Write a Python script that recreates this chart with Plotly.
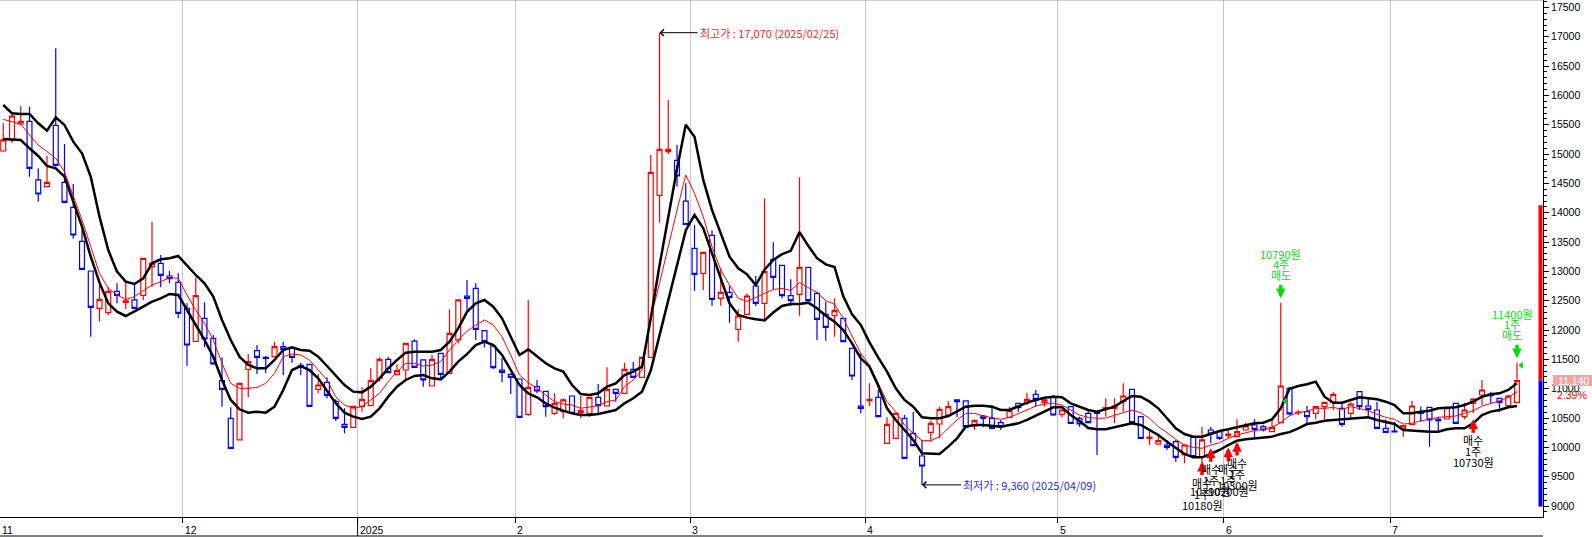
import plotly.graph_objects as go

# ---------------- data ----------------
month_labels = ["11", "12", "2025", "2", "3", "4", "5", "6", "7"]
month_start_idx = [0, 21, 41, 59, 79, 99, 121, 140, 159]
year_start_idx = 41

open_ = [15053, 15241, 15513, 15559, 14559, 14445, 15491, 14519, 14093, 13513,
         13007, 12371, 12297, 12660, 12473, 12513, 12592, 13081, 13138, 12922,
         12814, 12371, 11808, 12200, 11859, 11137, 10495, 10126, 11331, 11649,
         11535, 11546, 11717, 11688, 11399, 11416, 10989, 11109, 10785, 10393,
         10342, 10700, 10711, 11177, 11501, 11240, 11319, 11813, 11490, 11046,
         11603, 11262, 11831, 12581, 12711, 11990, 11728, 11319, 11245, 11166,
         10563, 11035, 10955, 10580, 10609, 10876, 10592, 10580, 10853, 10705,
         10989, 10921, 11330, 11194, 11535, 14297, 15042, 14894, 14200, 13394,
         12967, 13615, 12541, 12643, 12013, 12268, 12751, 12456, 13206, 13104,
         12587, 12609, 13070, 12626, 12268, 12246, 12200, 11689, 10705, 10796,
         10853, 10069, 10154, 10495, 10239, 9853, 10256, 10398, 10552, 10808,
         10791, 10364, 10535, 10495, 10421, 10512, 10751, 10762, 10904, 10768,
         10864, 10563, 10694, 10495, 10580, 10597, 10654, 10666, 10779, 10989,
         10524, 10154, 10057, 10040, 10097, 9870, 10171, 9841, 10296, 10268,
         10200, 10183, 10296, 10381, 10353, 10268, 10421, 11007, 10592, 10609,
         10580, 10694, 10768, 10666, 10580, 10950, 10705, 10637, 10325, 10279,
         10325, 10393, 10609, 10683, 10478, 10484, 10751, 10523, 10751, 10893,
         10904, 10836, 10711, 10768]
high = [15525, 15690, 15820, 15809, 14758, 14968, 16803, 15172, 14490, 13706,
        13007, 12780, 12729, 12797, 12825, 12780, 13234, 13842, 13280, 13007,
        12967, 12456, 12899, 12473, 11916, 11535, 10683, 11092, 11592, 11745,
        11558, 11802, 11802, 11700, 11444, 11420, 11251, 11194, 10819, 10666,
        10700, 11024, 11347, 11535, 11546, 11421, 11774, 11842, 11495, 11575,
        11605, 12353, 12513, 12853, 12797, 12000, 11730, 11518, 11262, 11170,
        12513, 11149, 10960, 10921, 10836, 10885, 10876, 10860, 11080, 11365,
        10995, 11444, 11455, 11540, 14985, 17070, 15923, 15155, 14502, 13792,
        13340, 13700, 13060, 12751, 12354, 12626, 12922, 14246, 13496, 13110,
        12865, 14604, 13075, 12655, 12484, 12541, 12205, 11700, 11603, 11092,
        10978, 10512, 10590, 10552, 10609, 10126, 10455, 10694, 10791, 10815,
        10800, 10478, 10552, 10722, 10467, 10694, 10760, 10933, 10978, 10830,
        10893, 10645, 10700, 10524, 10637, 10609, 10836, 10836, 11092, 10995,
        10530, 10296, 10211, 10126, 10126, 10045, 10175, 10353, 10353, 10275,
        10308, 10478, 10421, 10478, 10380, 10467, 12467, 11030, 10637, 10705,
        10694, 10768, 10938, 10751, 10768, 10955, 10853, 10779, 10478, 10438,
        10380, 10796, 10694, 10690, 10523, 10694, 10755, 10762, 10836, 11149,
        10950, 10840, 10893, 11444]
low = [15040, 15190, 15502, 14615, 14189, 14440, 14786, 14161, 13558, 13024,
       11888, 12143, 12257, 12456, 12354, 12365, 12513, 12740, 12729, 12797,
       12200, 11393, 11800, 11706, 11410, 10694, 9967, 10115, 10853, 11251,
       11262, 11540, 11234, 11444, 11234, 10694, 10921, 10836, 10450, 10239,
       10335, 10609, 10700, 11120, 11270, 11230, 11149, 11360, 11035, 11040,
       11149, 11255, 11774, 12342, 11831, 11706, 11336, 11109, 10910, 10495,
       10535, 10921, 10523, 10552, 10495, 10570, 10495, 10523, 10580, 10695,
       10779, 10910, 11180, 11185, 11530, 13831, 15002, 14445, 13791, 12672,
       12683, 12416, 12416, 12126, 11802, 12260, 12410, 12172, 12695, 12541,
       12410, 12246, 12495, 11831, 11819, 11888, 11795, 11149, 10580, 10705,
       10512, 10060, 10145, 9805, 10020, 9360, 10097, 10154, 10540, 10512,
       10345, 10296, 10342, 10315, 10296, 10500, 10609, 10722, 10694, 10694,
       10540, 10512, 10400, 10353, 10410, 9870, 10524, 10410, 10609, 10415,
       10150, 10040, 10040, 9955, 9756, 9728, 9835, 9728, 10069, 10126,
       10150, 10175, 10290, 10154, 10270, 10260, 10415, 10552, 10552, 10421,
       10478, 10478, 10637, 10353, 10495, 10637, 10523, 10320, 10250, 10255,
       10182, 10390, 10438, 10012, 10268, 10480, 10405, 10478, 10580, 10722,
       10751, 10609, 10705, 10765]
close = [15241, 15650, 15559, 14758, 14320, 14519, 14809, 14178, 13621, 13036,
         12388, 12524, 12660, 12592, 12496, 12371, 13223, 13138, 12933, 12876,
         12285, 11745, 12587, 11848, 11422, 10990, 9984, 11092, 11461, 11535,
         11518, 11717, 11671, 11535, 11376, 10700, 11063, 10887, 10495, 10342,
         10700, 10819, 11137, 11501, 11274, 11308, 11774, 11365, 11149, 11501,
         11245, 11944, 12513, 12541, 12012, 11802, 11359, 11279, 11194, 10512,
         11024, 10961, 10694, 10751, 10808, 10580, 10626, 10853, 10711, 10989,
         10921, 11330, 11194, 11535, 14690, 15082, 15082, 14627, 13800, 12950,
         13326, 12524, 12643, 12558, 12240, 12581, 12456, 12996, 12899, 12587,
         12501, 13070, 12501, 12183, 12047, 12331, 11802, 11217, 10666, 10819,
         10524, 10393, 10580, 9813, 10029, 9682, 10410, 10648, 10694, 10779,
         10353, 10455, 10495, 10325, 10353, 10626, 10677, 10819, 10819, 10808,
         10552, 10637, 10410, 10398, 10421, 10580, 10677, 10705, 10876, 10421,
         10154, 10177, 10114, 10001, 9830, 10040, 9841, 10126, 10228, 10154,
         10228, 10268, 10364, 10308, 10296, 10342, 11046, 10570, 10603, 10523,
         10694, 10768, 10904, 10393, 10739, 10694, 10648, 10325, 10256, 10262,
         10370, 10705, 10580, 10467, 10455, 10677, 10410, 10637, 10825, 10978,
         10881, 10768, 10876, 11140]

band_upper = [15837, 15695, 15684, 15684, 15525, 15400, 15627, 15496, 15212, 15013,
              14615, 13933, 13365, 12996, 12825, 12785, 12882, 13138, 13206, 13223,
              13263, 13093, 12939, 12797, 12570, 12172, 11831, 11547, 11405, 11348,
              11348, 11490, 11660, 11706, 11660, 11649, 11546, 11387, 11234, 11063,
              10950, 10938, 11035, 11177, 11347, 11490, 11615, 11632, 11632, 11632,
              11660, 11802, 12029, 12310, 12456, 12513, 12399, 12200, 11887, 11575,
              11671, 11546, 11433, 11347, 11291, 11063, 10910, 10893, 10921, 11035,
              11092, 11234, 11291, 11376, 12200, 13100, 13950, 14750, 15500, 15297,
              14559, 14047, 13649, 13252, 13053, 12950, 12768, 13030, 13195, 13295,
              13350, 13670, 13436, 13225, 13120, 13075, 12575, 12270, 12086, 11790,
              11530, 11291, 11006, 10808, 10694, 10512, 10495, 10495, 10535, 10609,
              10694, 10711, 10711, 10694, 10637, 10637, 10705, 10762, 10808, 10847,
              10864, 10853, 10750, 10700, 10637, 10609, 10654, 10694, 10791, 10876,
              10864, 10779, 10666, 10495, 10325, 10228, 10183, 10183, 10228, 10279,
              10308, 10342, 10381, 10410, 10421, 10478, 10666, 11000, 11046, 11075,
              11120, 10864, 10762, 10762, 10808, 10853, 10836, 10819, 10779, 10722,
              10580, 10580, 10609, 10626, 10666, 10677, 10683, 10722, 10779, 10864,
              10904, 10921, 10978, 11092]
band_lower = [15258, 15252, 15241, 15099, 14968, 14798, 14758, 14615, 14206, 13763,
              13252, 12808, 12456, 12314, 12240, 12314, 12399, 12484, 12541, 12615,
              12598, 12342, 12087, 11831, 11547, 11149, 10808, 10649, 10592, 10609,
              10592, 10694, 10978, 11319, 11387, 11319, 11177, 10967, 10751, 10592,
              10523, 10484, 10523, 10666, 10865, 11035, 11149, 11217, 11234, 11177,
              11160, 11291, 11461, 11590, 11745, 11802, 11745, 11575, 11319, 11063,
              10921, 10853, 10751, 10677, 10626, 10580, 10552, 10552, 10569, 10609,
              10637, 10751, 10836, 10950, 11310, 11910, 12507, 13104, 13700, 13962,
              13735, 13308, 12882, 12456, 12257, 12212, 12186, 12165, 12300, 12410,
              12444, 12444, 12467, 12371, 12243, 12143, 12001, 11774, 11518, 11376,
              11050, 10665, 10467, 10296, 10126, 9898, 9887, 9887, 10012, 10154,
              10353, 10381, 10381, 10370, 10353, 10381, 10410, 10467, 10535, 10609,
              10683, 10683, 10550, 10450, 10330, 10308, 10308, 10342, 10381, 10410,
              10381, 10296, 10211, 10097, 9984, 9887, 9830, 9830, 9887, 9955,
              10040, 10114, 10137, 10154, 10171, 10183, 10228, 10260, 10325, 10398,
              10421, 10455, 10467, 10478, 10495, 10512, 10512, 10467, 10438, 10398,
              10296, 10285, 10285, 10268, 10268, 10308, 10325, 10325, 10410, 10552,
              10609, 10637, 10683, 10705]
band_mid = [15593, 15553, 15513, 15326, 15155, 15042, 14928, 14701, 14303, 13877,
            13422, 12967, 12712, 12598, 12524, 12570, 12672, 12768, 12825, 12893,
            12882, 12598, 12342, 12115, 11831, 11433, 11092, 11007, 11007, 11020,
            11092, 11262, 11546, 11592, 11575, 11490, 11319, 11149, 10864, 10722,
            10666, 10694, 10808, 10921, 11120, 11291, 11433, 11433, 11387, 11404,
            11461, 11660, 11831, 11980, 12086, 12172, 12086, 11887, 11575, 11234,
            11103, 11007, 10893, 10779, 10739, 10722, 10666, 10694, 10711, 10779,
            10808, 11035, 11149, 11319, 12200, 12797, 13434, 14042, 14644, 14332,
            13934, 13422, 13024, 12768, 12540, 12490, 12555, 12620, 12690, 12712,
            12675, 12808, 12726, 12640, 12500, 12440, 12200, 11887, 11603, 11400,
            11075, 10779, 10609, 10381, 10239, 10114, 10114, 10182, 10325, 10467,
            10580, 10580, 10535, 10512, 10478, 10512, 10569, 10637, 10705, 10739,
            10751, 10722, 10637, 10552, 10512, 10495, 10500, 10552, 10592, 10637,
            10592, 10495, 10353, 10251, 10137, 10040, 10001, 9984, 10040, 10080,
            10154, 10211, 10251, 10285, 10308, 10342, 10421, 10540, 10592, 10620,
            10666, 10666, 10683, 10648, 10694, 10666, 10626, 10563, 10512, 10478,
            10398, 10410, 10455, 10478, 10512, 10523, 10535, 10580, 10626, 10705,
            10751, 10791, 10853, 10950]

# trade marks
sell_idx = [146, 173]
sell_price_text = ["10790원", "11400원"]
sell_qty_text = ["4주", "1주"]
sell_price = [10790, 11400]
buy_idx = [137, 138, 140, 141, 168]
buy_price_text = ["10180원", "10290원", "10200원", "10300원", "10730원"]
buy_qty_text = ["1주", "1주", "1주", "1주", "1주"]

# extremes
hi_idx, hi_text = 75, "최고가 : 17,070 (2025/02/25)"
lo_idx, lo_text = 105, "최저가 : 9,360 (2025/04/09)"
last_price_text, last_change_text = "11,140", "2.39%"
last_price = 11140
range_bar_top = 14130
range_bar_bottom = 8990

# ---------------- figure ----------------
W, H = 1592, 537
ML, MR, MT, MB = 0, 49, 0, 20
PW, PH = W - ML - MR, H - MT - MB
n = len(close)
idx = list(range(n))
X0, X1 = -0.3714, 175.97
Y0, Y1 = 8812.7, 17627.5

LAT = "Liberation Sans, Noto Sans CJK KR, sans-serif"
KR = "Noto Sans CJK KR, Liberation Sans, sans-serif"

fig = go.Figure()
fig.add_trace(go.Candlestick(
    x=idx, open=open_, high=high, low=low, close=close,
    increasing=dict(line=dict(color="#ff0000", width=1.2), fillcolor="#ffffff"),
    decreasing=dict(line=dict(color="#0000ff", width=1.2), fillcolor="#ffffff"),
    whiskerwidth=0, hoverinfo="skip", showlegend=False))
fig.add_trace(go.Scatter(x=idx, y=band_mid, mode="lines",
                         line=dict(color="#ff0000", width=1), hoverinfo="skip", showlegend=False))
fig.add_trace(go.Scatter(x=idx, y=band_upper, mode="lines",
                         line=dict(color="#000000", width=2.5), hoverinfo="skip", showlegend=False))
fig.add_trace(go.Scatter(x=idx, y=band_lower, mode="lines",
                         line=dict(color="#000000", width=2.5), hoverinfo="skip", showlegend=False))
# small green position markers
fig.add_trace(go.Scatter(x=[i + 0.5 for i in sell_idx], y=sell_price, mode="markers",
                         marker=dict(symbol="triangle-left", size=6, color="#10d010"),
                         hoverinfo="skip", showlegend=False))

ann = []
shapes = []

# month labels (left-aligned at the month separator)
for lab, s in zip(month_labels, month_start_idx):
    if s == 0:
        ann.append(dict(x=0, xref="paper", y=0, yref="paper", yshift=-12.5, text=lab,
                        showarrow=False, xanchor="left", yanchor="middle", xshift=0,
                        font=dict(family=LAT, size=10.5, color="#000000")))
    else:
        ann.append(dict(x=s - 0.5, xref="x", y=0, yref="paper", yshift=-12.5, xshift=0,
                        text=lab, showarrow=False, xanchor="left", yanchor="middle",
                        font=dict(family=LAT, size=10.5, color="#000000")))
# year separator runs through the label strip
shapes.append(dict(type="line", xref="x", yref="paper", x0=year_start_idx - 0.5,
                   x1=year_start_idx - 0.5, y0=0, y1=-(536 - PH) / PH,
                   line=dict(color="#000000", width=1)))

# highest / lowest
ann.append(dict(x=hi_idx, y=high[hi_idx], xref="x", yref="y", text=hi_text,
                showarrow=True, arrowhead=4, arrowsize=1.3, arrowwidth=1, arrowcolor="#000000",
                ax=38, ay=0, xanchor="left", yanchor="middle",
                font=dict(family=KR, size=11, color="#ff1a1a")))
ann.append(dict(x=lo_idx, y=low[lo_idx], xref="x", yref="y", text=lo_text,
                showarrow=True, arrowhead=4, arrowsize=1.3, arrowwidth=1, arrowcolor="#000000",
                ax=39, ay=0, xanchor="left", yanchor="middle",
                font=dict(family=KR, size=11, color="#2a2aff")))

# sells (green, above candle)
GREEN = "#10d810"
sell_xshift = [0, -5]
for k, i in enumerate(sell_idx):
    tip = 4.5
    ann.append(dict(x=i, y=high[i], xref="x", yref="y", text="", showarrow=True,
                    arrowhead=2, arrowsize=0.55, arrowwidth=3.5, arrowcolor=GREEN,
                    ax=0, ay=-15, yshift=tip))
    lines = [sell_price_text[k], sell_qty_text[k], "매도"]
    for j, t in enumerate(lines):
        off = tip + 15 + 8 + (2 - j) * 10.7
        ann.append(dict(x=i, y=high[i], xref="x", yref="y", text=t, showarrow=False,
                        yshift=off, xshift=sell_xshift[k], yanchor="middle", xanchor="center",
                        font=dict(family=KR, size=11, color=GREEN)))

# buys (red arrow, black text, below candle)
buy_tip_gap = [-1.5, 5, 9, 5, 6]
for k, i in enumerate(buy_idx):
    tip = buy_tip_gap[k]
    ann.append(dict(x=i, y=low[i], xref="x", yref="y", text="", showarrow=True,
                    arrowhead=2, arrowsize=0.55, arrowwidth=3.5, arrowcolor="#ff0000",
                    ax=0, ay=15, yshift=-tip))
    lines = ["매수", buy_qty_text[k], buy_price_text[k]]
    for j, t in enumerate(lines):
        off = tip + 15 + 6 + j * 11
        ann.append(dict(x=i, y=low[i], xref="x", yref="y", text=t, showarrow=False,
                        yshift=-off, yanchor="middle", xanchor="center",
                        font=dict(family=KR, size=11, color="#000000")))

# last price box on right axis
px2paper = lambda px: (px - ML) / PW
shapes.append(dict(type="rect", xref="paper", yref="y",
                   x0=px2paper(1553), x1=px2paper(1592),
                   y0=last_price - 95, y1=last_price + 95,
                   fillcolor="#f4a3a3", line=dict(width=0), layer="above"))
ann.append(dict(x=px2paper(1573), xref="paper", y=last_price, yref="y", text=last_price_text,
                showarrow=False, xanchor="center", yanchor="middle",
                font=dict(family=LAT, size=10.5, color="#ffffff")))
ann.append(dict(x=px2paper(1572), xref="paper", y=last_price, yref="y", yshift=-14,
                text=last_change_text, showarrow=False, xanchor="center", yanchor="middle",
                font=dict(family=LAT, size=10.5, color="#ff0000")))
# red / blue range bar at right edge
shapes.append(dict(type="rect", xref="paper", yref="y", x0=px2paper(1538.5), x1=px2paper(1542.5),
                   y0=last_price, y1=range_bar_top, fillcolor="#ff0000", line=dict(width=0)))
shapes.append(dict(type="rect", xref="paper", yref="y", x0=px2paper(1538.5), x1=px2paper(1542.5),
                   y0=range_bar_bottom, y1=last_price, fillcolor="#0000ff", line=dict(width=0)))
# frame lines
shapes.append(dict(type="line", xref="paper", yref="paper", x0=0, x1=1, y0=1, y1=1,
                   line=dict(color="#9a9a9a", width=1)))
shapes.append(dict(type="line", xref="paper", yref="paper", x0=0, x1=1,
                   y0=-(536 - PH) / PH, y1=-(536 - PH) / PH,
                   line=dict(color="#000000", width=1)))

fig.update_layout(
    width=W, height=H, margin=dict(l=ML, r=MR, t=MT, b=MB, pad=0),
    paper_bgcolor="#ffffff", plot_bgcolor="#ffffff",
    boxgap=0.2, showlegend=False, annotations=ann, shapes=shapes,
    font=dict(family=LAT, size=10.5, color="#000000"),
    xaxis=dict(range=[X0, X1], tickvals=[s - 0.5 for s in month_start_idx[1:]],
               showticklabels=False, ticks="outside", ticklen=5, tickcolor="#000000",
               showgrid=True, gridcolor="#c8c8c8", gridwidth=1, zeroline=False,
               showline=True, linecolor="#000000", linewidth=1, automargin=False,
               rangeslider=dict(visible=False), fixedrange=True),
    yaxis=dict(range=[Y0, Y1], side="right", tickvals=list(range(9000, 17501, 500)),
               ticktext=[str(v) for v in range(9000, 17501, 500)],
               ticks="outside", ticklen=5, tickcolor="#000000", showgrid=False,
               zeroline=False, showline=True, linecolor="#000000", linewidth=1,
               automargin=False,
               tickfont=dict(family=LAT, size=10.5, color="#000000"),
               minor=dict(dtick=100, tick0=0, ticks="outside", ticklen=3,
                          tickcolor="#000000", showgrid=False),
               fixedrange=True),
)

page_fix = ("document.documentElement.style.margin='0';document.documentElement.style.padding='0';"
            "document.documentElement.style.overflow='hidden';"
            "document.body.style.margin='0';document.body.style.padding='0';"
            "document.body.style.overflow='hidden';")
fig.write_html("out.html", config={"displayModeBar": False}, post_script=page_fix)
